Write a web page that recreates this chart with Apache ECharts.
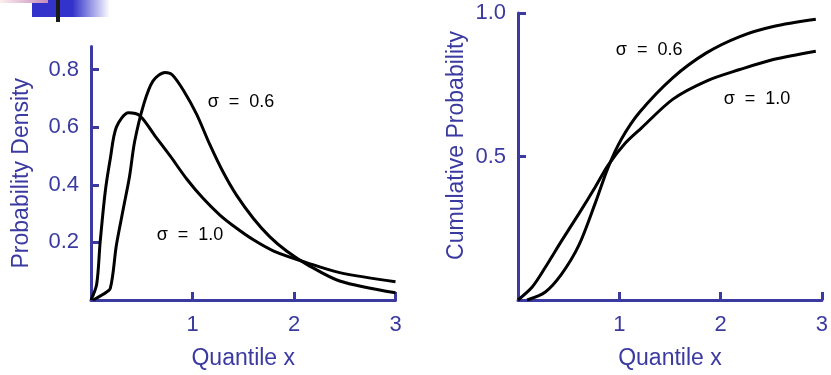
<!DOCTYPE html>
<html>
<head>
<meta charset="utf-8">
<script src="https://cdn.jsdelivr.net/npm/echarts@6/dist/echarts.min.js"></script>
<style>
  html, body { margin: 0; padding: 0; background: #fff; }
  #chart { width: 831px; height: 375px; }
</style>
</head>
<body>
<div id="chart"></div>
<script>
// values
var pdf06X = [0.02, 0.12, 0.19, 0.25, 0.32, 0.38, 0.43, 0.52, 0.61, 0.73, 0.80, 0.91, 1.04, 1.17, 1.30, 1.435, 1.60, 1.76, 1.93, 2.13, 2.45, 3.0];
var pdf06Y = [0.0, 0.02, 0.04, 0.19, 0.32, 0.43, 0.55, 0.68, 0.76, 0.79, 0.782, 0.728, 0.645, 0.54, 0.445, 0.363, 0.283, 0.22, 0.169, 0.123, 0.066, 0.025];
var pdf10X = [0.0, 0.056, 0.09, 0.14, 0.19, 0.25, 0.37, 0.48, 0.63, 0.78, 0.943, 1.106, 1.27, 1.435, 1.60, 1.80, 2.13, 2.45, 3.0];
var pdf10Y = [0.0, 0.055, 0.20, 0.375, 0.49, 0.60, 0.65, 0.64, 0.57, 0.50, 0.42, 0.352, 0.295, 0.249, 0.209, 0.17, 0.129, 0.095, 0.063];

var cdf06X = [0.09, 0.27, 0.43, 0.60, 0.76, 0.89, 1.02, 1.20, 1.53, 1.86, 2.19, 2.52, 2.94];
var cdf06Y = [0.0, 0.028, 0.09, 0.19, 0.335, 0.462, 0.56, 0.654, 0.775, 0.861, 0.918, 0.953, 0.978];
var cdf10X = [0.0, 0.14, 0.27, 0.43, 0.60, 0.76, 0.89, 1.06, 1.22, 1.53, 1.86, 2.19, 2.52, 2.94];
var cdf10Y = [0.0, 0.045, 0.114, 0.206, 0.30, 0.392, 0.47, 0.547, 0.60, 0.70, 0.763, 0.803, 0.838, 0.867];

var xTicks = [1, 2, 3];
var pdfTicks = [0.2, 0.4, 0.6, 0.8];
var cdfTicks = [0.5, 1.0];

var blue = '#3a3aa0';
var font = 'Liberation Sans';

function pairs(xs, ys) {
  return xs.map(function (x, i) { return [x, ys[i]]; });
}

function xAxis(idx) {
  return {
    type: 'value', gridIndex: idx, min: 0, max: 3, interval: 1,
    axisLine: { lineStyle: { color: blue, width: 3 } },
    axisTick: { inside: true, length: 8, customValues: xTicks, lineStyle: { color: blue, width: 3 } },
    axisLabel: { customValues: xTicks, margin: 14, fontSize: 22, color: blue, fontFamily: font },
    splitLine: { show: false },
    name: 'Quantile x', nameLocation: 'middle', nameGap: 47,
    nameTextStyle: { fontSize: 23, color: blue, fontFamily: font }
  };
}

function yAxis(idx, max, ticks, name, gap, pad) {
  return {
    type: 'value', gridIndex: idx, min: 0, max: max,
    axisLine: { lineStyle: { color: blue, width: 3 } },
    axisTick: { inside: true, length: 8, customValues: ticks, lineStyle: { color: blue, width: 3 } },
    axisLabel: {
      customValues: ticks, margin: 12, fontSize: 22, color: blue, fontFamily: font,
      formatter: function (v) { return v.toFixed(1); }
    },
    splitLine: { show: false },
    name: name, nameLocation: 'middle', nameGap: gap,
    nameTextStyle: { fontSize: 23, color: blue, fontFamily: font, padding: [0, 0, 0, pad] }
  };
}

function curve(xi, data, tag, at) {
  return {
    type: 'line', xAxisIndex: xi, yAxisIndex: xi,
    data: data, showSymbol: false, smooth: 0.3,
    lineStyle: { color: '#000', width: 3 },
    silent: true,
    markPoint: {
      symbol: 'circle', symbolSize: 0,
      label: { show: true, position: 'right', distance: 0, formatter: tag, color: '#000', fontSize: 18, fontFamily: font },
      data: [{ coord: at }]
    }
  };
}

var chart = echarts.init(document.getElementById('chart'));

var option = {
  animation: false,
  grid: [
    { left: 91, top: 46.5, width: 304.5, height: 256.5 },
    { left: 518, top: 13, width: 305, height: 290 }
  ],
  xAxis: [xAxis(0), xAxis(1)],
  yAxis: [
    yAxis(0, 0.88, pdfTicks, 'Probability Density', 58, 0),
    yAxis(1, 1.0, cdfTicks, 'Cumulative Probability', 50, 22)
  ],
  series: [
    curve(0, pairs(pdf06X, pdf06Y), 'σ  =  0.6', [1.15, 0.688]),
    curve(0, pairs(pdf10X, pdf10Y), 'σ  =  1.0', [0.647, 0.226]),
    curve(1, pairs(cdf06X, cdf06Y), 'σ  =  0.6', [0.966, 0.872]),
    curve(1, pairs(cdf10X, cdf10Y), 'σ  =  1.0', [2.03, 0.70])
  ],
  // slide decoration, top left
  graphic: [
    {
      type: 'rect', shape: { x: 32, y: 0, width: 78, height: 17 },
      style: {
        fill: new echarts.graphic.LinearGradient(0, 0, 1, 0, [
          { offset: 0, color: '#3333cc' },
          { offset: 0.52, color: '#3333cc' },
          { offset: 1, color: '#ffffff' }
        ])
      }
    },
    {
      type: 'rect', shape: { x: 0, y: 0, width: 48, height: 3 },
      style: {
        fill: new echarts.graphic.LinearGradient(0, 0, 1, 0, [
          { offset: 0, color: '#fdeef0' },
          { offset: 1, color: '#c58cba' }
        ])
      }
    },
    { type: 'rect', shape: { x: 56, y: 0, width: 4, height: 22 }, style: { fill: '#1a1a1a' } }
  ]
};

chart.setOption(option);
</script>
</body>
</html>
